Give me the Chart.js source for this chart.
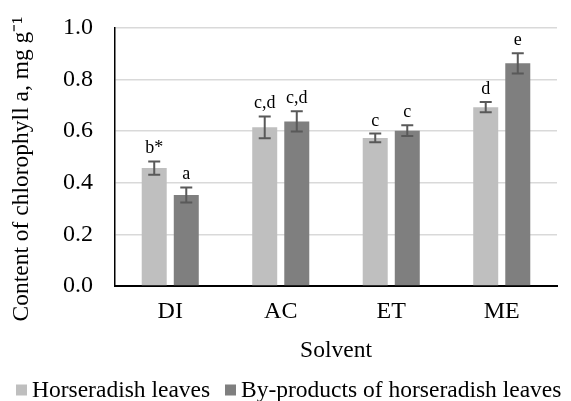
<!DOCTYPE html>
<html>
<head>
<meta charset="utf-8">
<script src="https://cdn.jsdelivr.net/npm/chart.js"></script>
<style>
  html, body { margin: 0; padding: 0; background: #fff; }
  #wrap { width: 571px; height: 401px; }
</style>
</head>
<body>
<div id="wrap"><canvas id="chart"></canvas></div>
<script>
const solvents = ["DI", "AC", "ET", "ME"];
const seriesNames = ["Horseradish leaves", "By-products of horseradish leaves"];
const leaves = [0.457, 0.615, 0.574, 0.693];
const byproducts = [0.353, 0.638, 0.602, 0.863];
const leavesErr = [0.026, 0.042, 0.017, 0.02];
const byproductsErr = [0.029, 0.039, 0.021, 0.039];
const leavesLetters = ["b*", "c,d", "c", "d"];
const byproductsLetters = ["a", "c,d", "c", "e"];
const yTicks = [0, 0.2, 0.4, 0.6, 0.8, 1.0];
const yTitle = "Content of chlorophyll a, mg g\u207B\u00B9";
const colors = ["#bfbfbf", "#7f7f7f"];

const serif = "'Liberation Serif', 'Times New Roman', serif";

// error bars + letters over each bar
const errorBars = {
  id: "errorBars",
  afterDatasetsDraw(chart) {
    const ctx = chart.ctx;
    const y = chart.scales.y;
    const errs = [leavesErr, byproductsErr];
    const letters = [leavesLetters, byproductsLetters];
    ctx.save();
    chart.data.datasets.forEach((ds, di) => {
      const meta = chart.getDatasetMeta(di);
      meta.data.forEach((bar, i) => {
        const v = ds.data[i];
        const top = y.getPixelForValue(v + errs[di][i]);
        const bot = y.getPixelForValue(v - errs[di][i]);
        ctx.strokeStyle = "#595959";
        ctx.lineWidth = 2;
        ctx.beginPath();
        ctx.moveTo(bar.x, top); ctx.lineTo(bar.x, bot);
        ctx.moveTo(bar.x - 6, top); ctx.lineTo(bar.x + 6, top);
        ctx.moveTo(bar.x - 6, bot); ctx.lineTo(bar.x + 6, bot);
        ctx.stroke();
        ctx.fillStyle = "#000";
        ctx.font = "18px " + serif;
        ctx.textAlign = "center";
        ctx.textBaseline = "alphabetic";
        ctx.fillText(letters[di][i], bar.x, top - 8);
      });
    });
    ctx.restore();
  }
};

// legend under the axis title, and the rotated y title a bit lower than chart.js puts it
const extras = {
  id: "extras",
  afterDraw(chart) {
    const ctx = chart.ctx;
    const y = 390;
    const starts = [16, 225];
    ctx.save();
    ctx.font = "23.5px " + serif;
    ctx.textBaseline = "middle";
    ctx.textAlign = "left";
    chart.data.datasets.forEach((ds, i) => {
      ctx.fillStyle = colors[i];
      ctx.fillRect(starts[i], y - 5.5, 11, 11);
      ctx.fillStyle = "#000";
      ctx.fillText(ds.label, starts[i] + 16, y + 1);
    });

    ctx.translate(22, 169);
    ctx.rotate(-Math.PI / 2);
    ctx.textAlign = "center";
    ctx.fillText(yTitle, 0, 0);
    ctx.restore();
  }
};

new Chart(document.getElementById("chart"), {
  type: "bar",
  data: {
    labels: solvents,
    datasets: [
      { label: seriesNames[0], data: leaves, backgroundColor: colors[0] },
      { label: seriesNames[1], data: byproducts, backgroundColor: colors[1] }
    ]
  },
  options: {
    responsive: true,
    maintainAspectRatio: false,
    animation: false,
    layout: { padding: { top: 28, right: 14, left: 0, bottom: 35 } },
    datasets: { bar: { categoryPercentage: 0.58, barPercentage: 0.78 } },
    plugins: {
      tooltip: { enabled: false },
      legend: { display: false }
    },
    scales: {
      x: {
        afterFit(axis) { axis.height = 80; },
        grid: { display: false, drawTicks: false },
        border: { display: true, color: "#000", width: 2 },
        ticks: { color: "#000", font: { family: serif, size: 24 }, padding: 11 },
        title: { display: true, text: "Solvent", color: "#000", font: { family: serif, size: 23.5 }, padding: { top: 0, bottom: 1 } }
      },
      y: {
        min: 0,
        max: 1,
        afterFit(axis) {
          axis.width = 115;
          axis.paddingTop = 0;
          axis.paddingBottom = 0;
        },
        afterBuildTicks(axis) { axis.ticks = yTicks.map(v => ({ value: v })); },
        grid: { color: "#d9d9d9", lineWidth: 1.5, drawTicks: false },
        border: { display: true, color: "#000", width: 1.5 },
        ticks: {
          color: "#000",
          font: { family: serif, size: 24 },
          padding: 22,
          callback: v => v.toFixed(1)
        }
      }
    }
  },
  plugins: [errorBars, extras]
});
</script>
</body>
</html>
